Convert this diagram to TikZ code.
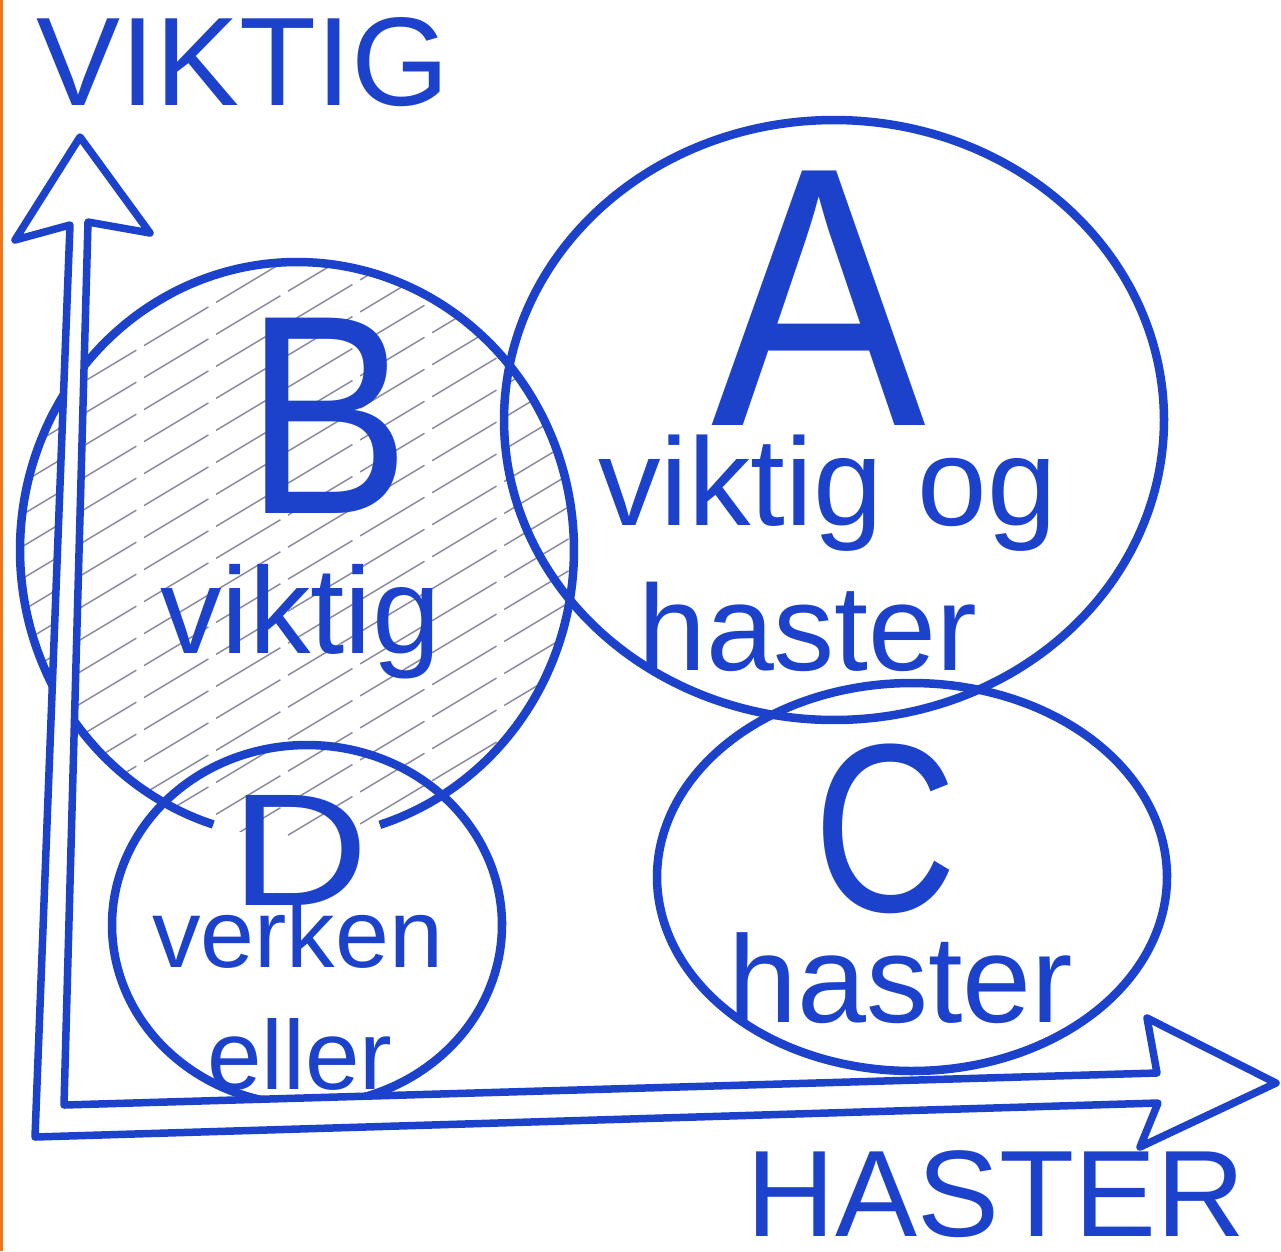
\documentclass[tikz,border=0pt]{standalone}
\usepackage{graphicx}
\usepackage{fontspec}
\setmainfont{Liberation Sans}
\definecolor{ink}{RGB}{28,66,204}
\definecolor{hatchc}{RGB}{140,140,158}
\definecolor{edgec}{RGB}{235,120,30}
\newcommand\fsz[1]{\fontsize{#1}{#1}\selectfont}
\begin{document}
\begin{tikzpicture}[x=1pt,y=-1pt,
  circ/.style={draw=ink, line width=8.5pt},
  hatchline/.style={draw=hatchc, line width=1.5pt, dash pattern=on 75pt off 9pt},
  lbl/.style={text=ink, inner sep=0pt, anchor=base west},
  big/.style={text=ink, inner sep=0pt, anchor=base, text depth=0pt},
  axisband/.style={draw=ink, fill=white, line width=7.5pt, line join=round},
]
\useasboundingbox (0,0) rectangle (1281,1251);
\fill[white] (0,0) rectangle (1281,1251);
\fill[edgec] (0,0) rectangle (3,1251);

% hatching of B
\begin{scope}
  \clip plot[domain=0:360, samples=120, smooth] ({297+277*cos(\x)},{550+288*sin(\x)}) -- cycle;
  \foreach \c in {240,272,...,1210}
    \draw[hatchline] (0,\c) -- ++(900,-540);
\end{scope}

% circles
\draw[circ] plot[domain=107.6:432.6, samples=120, smooth] ({297+277*cos(\x)},{550+288*sin(\x)});
\draw[circ] plot[domain=0:360, samples=140, smooth] ({834+330*cos(\x)},{420+300*sin(\x)}) -- cycle;
\draw[circ] plot[domain=0:360, samples=120, smooth] ({912+255*cos(\x)},{877+194*sin(\x)}) -- cycle;
\draw[circ] plot[domain=0:360, samples=120, smooth] ({307+195*cos(\x)},{925+180*sin(\x)}) -- cycle;

% axes (outline double arrow)
\coordinate (vnr) at (88,222);
\coordinate (vbr) at (150,233);
\coordinate (vtip) at (80,137);
\coordinate (vbl) at (15,240);
\coordinate (vnl) at (70,225);
\coordinate (outc) at (35,1137);
\coordinate (hnb) at (1158,1103);
\coordinate (hbb) at (1140,1147);
\coordinate (htip) at (1276,1083);
\coordinate (hbt) at (1147,1018);
\coordinate (hnt) at (1157,1073);
\coordinate (inc) at (64,1105);
\draw[axisband] (vnr) -- (vbr) -- (vtip) -- (vbl) -- (vnl) -- (outc) -- (hnb) -- (hbb) -- (htip) -- (hbt) -- (hnt) -- (inc) -- cycle;

% big letters
\node[big] (bigA) at (819,425) {\fsz{370pt}\scalebox{0.87}[1]{A}};
\node[big] (bigB) at (328,513) {\fsz{284pt}\scalebox{0.87}[1]{B}};
\node[big] (bigC) at (885,911) {\fsz{240pt}\scalebox{0.83}[1]{C}};
\node[big] (bigD) at (300,905) {\fsz{160pt}\scalebox{1.2}[1]{D}};

% labels
\node[lbl] (viktigAx) at (36,105) {\fsz{126pt}VIKTIG};
\node[lbl, text depth=0pt] (hasterAx) at (746,1236) {\fsz{123pt}HASTER};
\node[lbl] (aline1) at (598,525) {\fsz{125pt}viktig og};
\node[lbl] (aline2) at (638,670) {\fsz{122pt}haster};
\node[lbl] (bline) at (160,653) {\fsz{123pt}viktig};
\node[lbl] (dline1) at (152,967) {\fsz{97pt}verken};
\node[lbl] (dline2) at (207,1089) {\fsz{98pt}eller};
\node[lbl] (cline) at (728,1022) {\fsz{124pt}haster};
\end{tikzpicture}
\end{document}
